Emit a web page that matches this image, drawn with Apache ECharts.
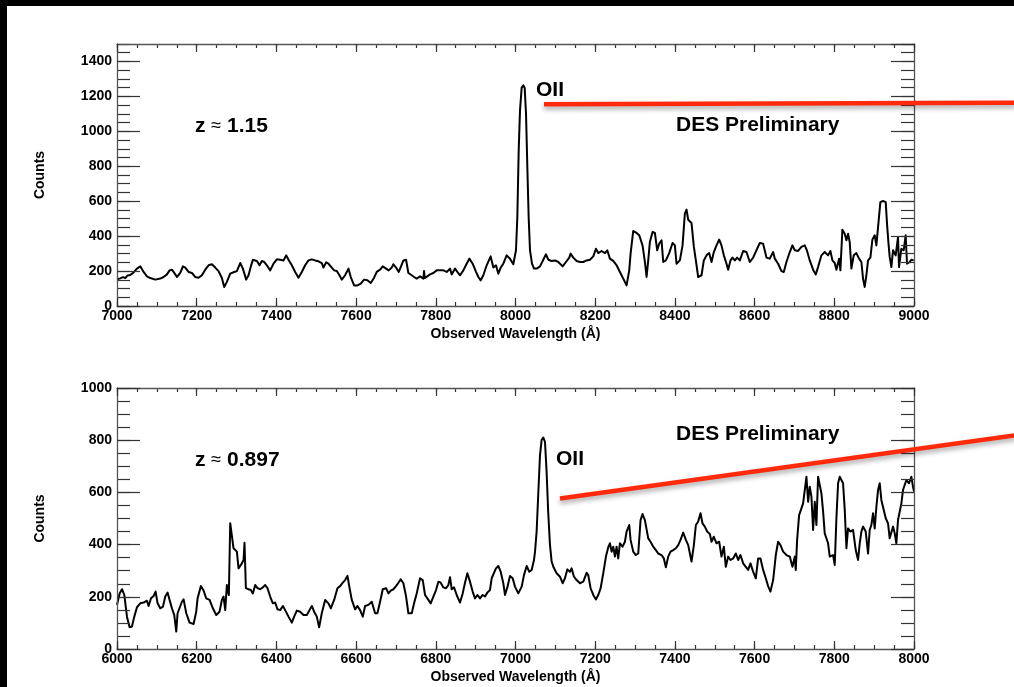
<!DOCTYPE html>
<html>
<head>
<meta charset="utf-8">
<script src="https://cdn.jsdelivr.net/npm/echarts@6/dist/echarts.min.js"></script>
<style>
html,body{margin:0;padding:0;background:#fff;}
#chart{width:1014px;height:687px;}
</style>
</head>
<body>
<div id="chart"></div>
<script>
// Spectrum of the z ~ 1.15 galaxy (observed wavelength in Angstrom, counts)
const topWave = [
7000,7008.3,7015,7020.8,7026.7,7033.3,7041.7,7050.1,7058.4,7066.8,7075.1,7083.5,7096,7108.6,7116.9,7125.3,7132,7137.8,7146.2,7150.4,
7158.7,7165.4,7171.3,7179.6,7188,7196.3,7204.7,7213,7221.4,7229.8,7238.1,7246.5,7254.8,7263.2,7269,7275.7,7284.1,7292.4,7300.8,7309.2,
7315.9,7324.2,7330.1,7335.9,7340.9,7351,7357.6,7363.5,7369.3,7376,7384.4,7392.7,7401.1,7409.5,7417.8,7424.5,7430.4,7438.7,7447.1,7455.4,
7463.8,7472.1,7480.5,7488.9,7497.2,7505.6,7513.9,7518.1,7524.8,7530.7,7539,7544.9,7551.5,7558.2,7564.1,7572.4,7580.8,7586.6,7595,7603.4,
7611.7,7620.1,7628.4,7636.8,7645.2,7651.8,7660.2,7666.9,7675.3,7681.9,7689.5,7693.6,7700.3,7707,7712,7718.7,7725.4,7731.2,7739.6,7745.5,
7752.1,7760.5,7768.9,7770.5,7772.2,7777.2,7785.6,7793.9,7802.3,7810.6,7819,7827.4,7835.7,7839.9,7848.3,7854.1,7860.8,7869.1,7877.5,7884.2,
7892.5,7900.9,7906.8,7912.6,7919.3,7927.7,7937.7,7944.4,7951,7956.9,7962.8,7969.4,7977.8,7986.2,7994.5,8001.2,
8004.6,8008,8011.3,8015.5,8019.7,8023,8026.4,8029.7,8033,8036.4,8041.4,8046.4,
8053.1,8061.4,8069.8,8076.5,8082.3,8090.7,8099,8107.4,8111.6,8118.3,8126.6,8135,8138.3,8145,8153.4,8161.7,8170.1,8178.4,8186.8,8195.2,
8201.8,8207.7,8216,8224.4,8230.3,8236.9,8245.3,8253.7,8262,8270.4,8278.7,8285.4,8288.8,8295.4,8303.8,8310.5,8313.8,8318.8,8324.7,8328.9,
8333.1,8337.2,8343.9,8349.8,8355.6,8360.6,8366.5,8370.7,8377.3,8385.7,8394.1,8399.9,8404.1,8412.5,8419.2,8425,8429.2,8433.4,8441.7,8447.6,
8452.6,8458.4,8466.8,8472.6,8479.3,8486,8491.9,8497.7,8504.4,8511.1,8516.9,8522.8,8529.5,8533.6,8539.5,8544.5,8550.4,8556.2,8562.9,8571.3,
8579.6,8588,8596.3,8604.7,8613.1,8621.4,8629.8,8638.1,8646.5,8650.7,8659,8667.4,8673.2,8679.9,8688.3,8695,8700.8,8709.2,8717.5,8725.9,
8731.7,8738.4,8746.8,8753.5,8759.3,8767.7,8776,8784.4,8790.2,8795.3,8801.1,8805.3,8812,8815.3,8820.3,8826.2,8830.4,8834.5,8838.7,8842.9,
8848.8,8855.4,8862.1,8868,8872.1,8876.3,8880.5,8884.7,8890.6,8895.6,8901.4,8905.6,8909.8,8915.6,8922.3,8929,8932.3,8935.7,8939,8943.2,
8947.4,8954,8959.9,8962.4,8968.3,8974.1,8979.1,8982.5,8989.2,8993.3,8999.2
];
const topCounts = [
153,158,165,160,175,178,192,214,227,195,170,160,151,157,166,181,204,208,181,166,
189,227,220,195,189,166,162,176,208,233,239,220,200,160,109,138,185,193,200,246,
214,151,176,227,265,258,233,258,252,233,204,242,267,265,261,290,265,233,195,162,
195,233,261,267,261,256,246,220,250,242,220,204,200,176,151,176,214,166,118,118,
128,151,147,132,162,195,208,227,214,204,220,239,220,195,223,261,265,189,176,166,
157,170,157,200,160,166,181,189,204,204,204,195,214,181,214,195,176,204,242,271,
242,195,166,147,176,233,284,220,233,185,220,242,290,271,239,319,
510,891,1120,1250,1263,1250,1101,796,510,319,243,214,
214,227,265,296,265,258,261,252,261,227,252,277,300,277,258,252,252,261,265,284,
328,303,315,303,319,271,258,233,195,157,118,204,300,429,418,405,414,347,252,166,
261,366,424,418,319,357,376,252,261,303,361,347,242,261,347,529,552,494,475,338,
261,166,176,261,290,303,252,309,347,380,347,290,242,208,261,277,261,277,261,315,
309,252,277,319,361,357,277,271,309,271,242,200,195,252,309,347,319,315,338,347,
315,261,208,181,223,290,309,290,315,261,246,208,271,204,437,414,376,414,366,214,
290,303,271,252,157,109,176,261,277,380,405,347,452,595,601,595,471,366,281,223,
319,290,395,223,328,319,405,242,252,265,261
];

// Spectrum of the z ~ 0.897 galaxy
const bottomWave = [
6000,6006.6,6012.5,6018.3,6025,6031.7,6037.5,6043.4,6050.1,6058.4,6066.8,6075.1,6079.3,6085.2,6091.9,6096.9,6101.9,6108.6,6115.3,6121.1,
6127,6132,6137.8,6143.7,6148.7,6152,6157,6162.9,6167.1,6173.8,6182.1,6192.2,6198.8,6202.2,6210.5,6217.2,6223.9,6232.3,6240.6,6249,
6257.3,6263.2,6267.4,6271.6,6275.7,6280.7,6284.1,6288.3,6292.4,6296.6,6300.8,6305,6309.2,6313.4,6317.5,6320,6323.4,6330.1,6335.9,6340.9,
6346.8,6352.6,6359.3,6366,6371.8,6377.7,6384.4,6391.1,6396.9,6402.8,6409.5,6416.2,6422,6430.4,6438.7,6444.6,6451.2,6459.6,6468,6476.3,
6483,6488.9,6494.7,6501.4,6507.2,6513.9,6522.3,6530.6,6536.5,6544.9,6553.2,6559.9,6566.6,6572.4,6578.3,6583.3,6589.2,6597.5,6603.4,6610,
6616.8,6622.6,6631,6639.3,6647.7,6653.5,6660.2,6666.9,6675.3,6681.1,6687,6693.6,6700.3,6706.2,6712,6718.7,6725.4,6731.2,6739.6,6745.5,
6752.1,6760.5,6767.2,6773,6781.4,6787.2,6793.9,6800.6,6806.5,6812.3,6819,6825.7,6831.5,6835.7,6839.9,6845.8,6852.4,6860.8,6867.5,6873.3,
6879.2,6885.8,6892.5,6898.4,6904.3,6910.9,6917.6,6923.5,6929.3,6936,6940.2,6944.4,6951,6956.9,6962.8,6969.4,6973.6,6979.5,6986.2,6992.9,
6998.7,7007,7015.5,7021.3,7028,7034.7,7040.5,7046.4,
7049,7053,7057,7061.5,7065.6,7069.8,7074,7078,7082,7086.5,7090.7,
7094.9,7103.2,7111.6,7118.3,7124.1,7130,7136.6,7140.8,7146.7,7153.4,7161.7,7170.1,7178.4,7182.6,7188.5,7195.2,7201.8,7207.7,7213.5,7220.2,
7226.9,7232.8,7236.9,7241.1,7245.3,7249.5,7253.7,7257.8,7262,7268.7,7274.6,7278.7,7285.4,7288.8,7295.4,7302.1,7308,7313.8,7318.8,7324.7,
7328.9,7333.1,7338.9,7345.6,7352.3,7358.1,7366.5,7372.3,7377.3,7383.2,7389.1,7395.7,7402.4,7408.3,7414.1,7420.8,7427.5,7433.4,7441.7,7447.6,
7452.6,7458.4,7464.3,7469.3,7475.1,7481,7487.7,7491.9,7497.7,7504.4,7511.1,7516.9,7522.8,7527.8,7533.6,7539.5,7546.2,7552.9,7558.7,7564.6,
7571.3,7577.9,7583.8,7589.7,7596.3,7603,7608.9,7614.7,7621.4,7628.1,7633.9,7639.8,7646.5,7653.2,7659,7664.9,7671.6,7679.9,7688.3,7695,
7700.8,7703.3,7706.7,7711.7,7717.5,7721.7,7725.9,7730.1,7734.3,7738.4,7742.6,7746.8,7751,7755.1,7759.3,7763.5,7767.7,7771.9,7776,7780.2,
7784.4,7788.6,7792.8,7796.9,7801.1,7805.3,7809.5,7813.6,7817.8,7822,7826.2,7830.4,7834.5,7840.4,7847.1,7853.8,7859.6,7863.8,7868,7872.1,
7878.8,7884.7,7888.8,7893,7897.2,7901.4,7905.6,7909.8,7914,7918.1,7922.3,7929,7934.9,7939,7943.2,7947.4,7951.6,7955.7,7959.9,7964.1,
7968.3,7972.4,7980.8,7987.5,7993.3,7997.5,8000
];
const bottomCounts = [
169,213,229,207,124,83,86,124,160,175,178,185,165,194,203,220,175,156,162,201,
216,188,156,130,67,137,130,181,190,137,101,96,143,194,241,224,194,188,156,130,
143,188,201,149,245,207,482,475,386,379,373,309,316,328,341,407,233,229,226,213,
245,233,229,236,245,233,201,175,178,152,149,165,149,124,101,124,147,143,130,130,
149,165,143,124,83,137,188,175,156,188,233,241,254,264,280,236,188,152,165,149,
124,165,169,181,137,137,181,229,233,213,224,229,241,254,267,252,201,137,137,175,
213,271,264,207,188,175,201,226,258,254,236,233,245,275,229,236,207,178,213,254,
290,258,220,194,207,194,207,201,216,226,271,264,309,318,296,252,207,236,280,271,
239,213,239,283,318,296,303,341,
373,450,590,743,801,810,794,680,526,399,335,
315,290,277,252,271,305,296,309,277,264,252,258,292,283,232,207,190,207,232,290,
354,390,405,373,392,354,392,347,405,392,411,450,475,418,373,360,366,494,517,494,
488,424,411,392,379,366,360,347,313,354,373,379,386,398,418,446,418,398,335,398,
475,488,520,481,469,450,441,411,430,405,411,354,392,315,354,341,347,366,341,360,
328,315,303,328,296,271,347,347,303,271,241,220,264,360,411,398,373,360,354,315,
354,303,418,513,539,558,609,660,564,622,584,456,564,475,660,654,596,526,443,437,
405,354,354,360,322,501,635,660,667,635,533,386,462,450,456,379,341,405,450,469,
450,366,456,475,520,462,545,609,635,571,571,501,481,424,424,469,443,405,494,501,
558,609,647,635,660,622,603
];

// Axis extents and tick steps
const topXRange = [7000, 9000];
const topYRange = [0, 1500];
const bottomXRange = [6000, 8000];
const bottomYRange = [0, 1000];
const majorXStep = 200, minorXStep = 50;
const majorYStep = 200, minorYStep = 50;

const FONT = '"Liberation Sans", Arial, Helvetica, sans-serif';
const AXIS_LINE = { show: true, onZero: false, lineStyle: { color: '#555', width: 1.3 } };
const NO_LINE = { show: false, onZero: false };
const TICK_COLOR = '#333';

function pairs(xs, ys) { return xs.map((x, i) => [x, ys[i]]); }

// one value axis layer: either the labelled/major layer or a tick-only layer
function axis(kind, grid, pos, range, step, tickLen, opts) {
  opts = opts || {};
  const a = {
    type: 'value', gridIndex: grid, position: pos,
    min: range[0], max: range[1], interval: step,
    axisLine: opts.line ? AXIS_LINE : NO_LINE,
    axisTick: { show: true, inside: true, length: tickLen, lineStyle: { color: TICK_COLOR, width: 1.2 } },
    splitLine: { show: false },
    axisLabel: { show: false },
    z: opts.line ? 5 : 4
  };
  if (opts.labels) {
    a.axisLabel = {
      show: true, color: '#000', fontFamily: FONT, fontWeight: 'bold', fontSize: 14,
      margin: kind === 'x' ? 3 : 5,
      showMaxLabel: opts.hideMax ? false : true,
      formatter: v => String(v)
    };
  }
  if (opts.name) {
    a.name = opts.name;
    a.nameLocation = 'middle';
    a.nameGap = opts.nameGap;
    a.nameTextStyle = { color: '#000', fontFamily: FONT, fontWeight: 'bold', fontSize: 14 };
  }
  return a;
}

const grids = [
  { left: 117, top: 44, width: 797, height: 262 },
  { left: 117, top: 388, width: 797, height: 261 }
];

const xAxes = [];
const yAxes = [];
[[topXRange, topYRange, true], [bottomXRange, bottomYRange, false]].forEach(([xr, yr, isTop], g) => {
  xAxes.push(axis('x', g, 'bottom', xr, majorXStep, 8, { line: true, labels: true, name: 'Observed Wavelength (Å)', nameGap: 21 }));
  xAxes.push(axis('x', g, 'bottom', xr, minorXStep, 4));
  xAxes.push(axis('x', g, 'top', xr, majorXStep, 8, { line: true }));
  xAxes.push(axis('x', g, 'top', xr, minorXStep, 4));
  yAxes.push(axis('y', g, 'left', yr, majorYStep, 23, { line: true, labels: true, hideMax: isTop, name: 'Counts', nameGap: 70 }));
  yAxes.push(axis('y', g, 'left', yr, minorYStep, 13));
  yAxes.push(axis('y', g, 'right', yr, majorYStep, 23, { line: true }));
  yAxes.push(axis('y', g, 'right', yr, minorYStep, 13));
});

function spectrum(g, data) {
  return {
    type: 'line', xAxisIndex: g * 4, yAxisIndex: g * 4, data: data,
    showSymbol: false, symbol: 'none', silent: true, clip: true,
    lineStyle: { color: '#000', width: 2, join: 'round' }, z: 3
  };
}

function label(x, y, text) {
  return { type: 'text', z: 50, x: x, y: y,
    style: { text: text, fill: '#000', font: 'bold 21px ' + FONT, verticalAlign: 'middle' } };
}
function redshift(x, y, value) {
  return { type: 'text', z: 50, x: x, y: y,
    style: { text: '{b|z }{n|≈}{b| ' + value + '}', verticalAlign: 'middle',
      rich: {
        b: { fill: '#000', fontFamily: FONT, fontWeight: 'bold', fontSize: 21 },
        n: { fill: '#000', fontFamily: FONT, fontWeight: 'normal', fontSize: 18 }
      } } };
}
function pointer(x1, y1, x2, y2) {
  return { type: 'line', z: 60,
    shape: { x1: x1, y1: y1, x2: x2, y2: y2 },
    style: { stroke: '#ff2a0c', lineWidth: 4.5, shadowBlur: 5, shadowOffsetY: 3, shadowColor: 'rgba(0,0,0,0.35)' } };
}

const chart = echarts.init(document.getElementById('chart'), null, { renderer: 'canvas' });
chart.setOption({
  animation: false,
  backgroundColor: '#fff',
  grid: grids,
  xAxis: xAxes,
  yAxis: yAxes,
  series: [spectrum(0, pairs(topWave, topCounts)), spectrum(1, pairs(bottomWave, bottomCounts))],
  graphic: [
    { type: 'rect', z: 70, shape: { x: 0, y: 0, width: 1014, height: 6 }, style: { fill: '#000' } },
    { type: 'rect', z: 70, shape: { x: 0, y: 0, width: 7, height: 687 }, style: { fill: '#000' } },
    redshift(195, 126, '1.15'),
    label(536, 90, 'OII'),
    label(676, 125, 'DES Preliminary'),
    redshift(195, 460, '0.897'),
    label(676, 434, 'DES Preliminary'),
    label(556, 459, 'OII'),
    pointer(544, 104.3, 1016, 102.8),
    pointer(560, 498.5, 1016, 435.2)
  ]
});
</script>
</body>
</html>
